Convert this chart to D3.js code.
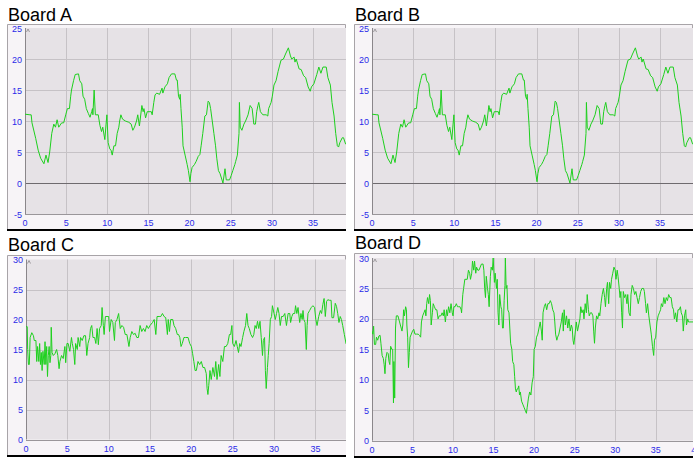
<!DOCTYPE html>
<html><head><meta charset="utf-8">
<script src="https://cdn.jsdelivr.net/npm/d3@7"></script>
<style>html,body{margin:0;padding:0;background:#fff;}svg{display:block;}</style>
</head><body>
<svg id="c" width="694" height="462"></svg>
<script>
const titles = ["Board A", "Board B", "Board C", "Board D"];
const xTicks = [0, 5, 10, 15, 20, 25, 30, 35, 40];
const yTicksAB = [-5, 0, 5, 10, 15, 20, 25];
const yTicksCD = [0, 5, 10, 15, 20, 25, 30];

const boardA_x = [0,0.6,0.75,0.85,1.3,1.6,1.9,2.3,2.55,2.8,3.0,3.25,3.5,3.7,3.9,4.1,4.45,4.7,4.95,5.15,5.4,5.55,5.65,5.9,6.1,6.5,6.65,6.9,7.05,7.25,7.45,7.7,7.9,8.1,8.2,8.25,8.4,8.55,8.9,9.1,9.3,9.45,9.7,9.85,9.95,10.1,10.3,10.45,10.6,10.8,11.0,11.2,11.4,11.5,11.65,11.85,12.2,12.6,12.9,13.1,13.3,13.55,13.7,13.9,14.2,14.35,14.45,14.65,14.85,15.35,15.45,15.65,15.8,16.0,16.35,16.65,16.75,17.0,17.3,17.5,17.8,18.2,18.4,18.5,18.65,18.8,18.85,18.95,19.1,19.2,19.45,19.7,19.85,20.05,20.15,20.3,20.6,20.8,21.05,21.25,21.4,21.6,21.85,22.05,22.25,22.4,22.55,22.75,22.95,23.15,23.3,23.5,23.7,24.05,24.3,24.45,24.85,25.05,25.25,25.5,25.6,25.8,26.0,26.05,26.15,26.35,26.6,26.8,27.1,27.35,27.6,27.8,28.0,28.15,28.3,28.4,28.6,28.9,29.3,29.5,29.6,29.75,29.9,30.05,30.25,30.5,30.75,31.1,31.4,31.65,32.0,32.25,32.4,32.7,32.8,32.95,33.3,33.55,33.85,34.1,34.4,34.65,34.8,35.1,35.45,35.7,35.95,36.2,36.6,36.8,37.1,37.3,37.55,37.75,37.95,38.1,38.25,38.55,38.7,38.95,39.0];
const boardA_y = [11.1,11,11,9.7,7.2,5.3,4,3.1,4.5,3.3,5,8,9.5,9,10.2,9,9.7,9.7,11,12,12,14,15,16.5,17.5,17.6,16.5,16,14,13.5,12,11.2,10.6,11.5,12,11,15,11,11,9.3,8.3,9,7,9.5,11,6.5,5.5,5.3,4.5,6,6,8,9,10,11,10.3,10,9.8,9.5,8.5,9,10,11,9.2,12.5,11.5,12,10.5,11.5,11.5,11,13,14.2,14.5,14.3,15.3,14.5,15.5,16,17,17.6,17.6,16.6,16.6,14,13.5,14.3,12,9,6,4.5,3,2,0.2,1.5,2.5,3,3.5,4.3,4.6,6,8,10.8,11,13.2,13,12,10,8,6,4,2,1.5,0,2.3,0.5,0.5,1.2,2,3,3.5,4.5,8,13,9,8.5,9.5,10,11,12.5,12,9.5,9.5,11.5,12.5,13,11.5,11,11,10.8,12,12.5,13,14,15.8,16.5,18,19.8,20,20.8,21.8,20.5,20,20.3,19.5,20,18.4,18.3,17.3,17,15.5,14.8,15.5,16,17.5,18.7,17.7,18.7,18.7,17,15.8,13,10.8,8,6,5.8,6.5,7.3,7.3,6.3,6.3];

const boardB_x = [0,0.6,0.75,0.85,1.3,1.6,1.9,2.3,2.55,2.8,3.0,3.25,3.5,3.7,3.9,4.1,4.45,4.7,4.95,5.15,5.4,5.55,5.65,5.9,6.1,6.5,6.65,6.9,7.05,7.25,7.45,7.7,7.9,8.1,8.2,8.25,8.4,8.55,8.9,9.1,9.3,9.45,9.7,9.85,9.95,10.1,10.3,10.45,10.6,10.8,11.0,11.2,11.4,11.5,11.65,11.85,12.2,12.6,12.9,13.1,13.3,13.55,13.7,13.9,14.2,14.35,14.45,14.65,14.85,15.35,15.45,15.65,15.8,16.0,16.35,16.65,16.75,17.0,17.3,17.5,17.8,18.2,18.4,18.5,18.65,18.8,18.85,18.95,19.1,19.2,19.45,19.7,19.85,20.05,20.15,20.3,20.6,20.8,21.05,21.25,21.4,21.6,21.85,22.05,22.25,22.4,22.55,22.75,22.95,23.15,23.3,23.5,23.7,24.05,24.3,24.45,24.85,25.05,25.25,25.5,25.6,25.8,26.0,26.05,26.15,26.35,26.6,26.8,27.1,27.35,27.6,27.8,28.0,28.15,28.3,28.4,28.6,28.9,29.3,29.5,29.6,29.75,29.9,30.05,30.25,30.5,30.75,31.1,31.4,31.65,32.0,32.25,32.4,32.7,32.8,32.95,33.3,33.55,33.85,34.1,34.4,34.65,34.8,35.1,35.45,35.7,35.95,36.2,36.6,36.8,37.1,37.3,37.55,37.75,37.95,38.1,38.25,38.55,38.7,38.95,39.0];
const boardB_y = [11.1,11,11,9.7,7.2,5.3,4,3.1,4.5,3.3,5,8,9.5,9,10.2,9,9.7,9.7,11,12,12,14,15,16.5,17.5,17.6,16.5,16,14,13.5,12,11.2,10.6,11.5,12,11,15,11,11,9.3,8.3,9,7,9.5,11,6.5,5.5,5.3,4.5,6,6,8,9,10,11,10.3,10,9.8,9.5,8.5,9,10,11,9.2,12.5,11.5,12,10.5,11.5,11.5,11,13,14.2,14.5,14.3,15.3,14.5,15.5,16,17,17.6,17.6,16.6,16.6,14,13.5,14.3,12,9,6,4.5,3,2,0.2,1.5,2.5,3,3.5,4.3,4.6,6,8,10.8,11,13.2,13,12,10,8,6,4,2,1.5,0,2.3,0.5,0.5,1.2,2,3,3.5,4.5,8,13,9,8.5,9.5,10,11,12.5,12,9.5,9.5,11.5,12.5,13,11.5,11,11,10.8,12,12.5,13,14,15.8,16.5,18,19.8,20,20.8,21.8,20.5,20,20.3,19.5,20,18.4,18.3,17.3,17,15.5,14.8,15.5,16,17.5,18.7,17.7,18.7,18.7,17,15.8,13,10.8,8,6,5.8,6.5,7.3,7.3,6.3,6.3];

const boardC_x = [0,0.15,0.2,0.3,0.4,0.5,0.7,0.9,1.0,1.2,1.3,1.4,1.55,1.65,1.75,1.85,1.95,2.05,2.2,2.3,2.4,2.5,2.6,2.7,2.8,2.9,3.0,3.05,3.15,3.3,3.5,3.7,3.85,4.0,4.1,4.3,4.5,4.7,4.8,4.95,5.1,5.3,5.5,5.6,5.75,5.9,6.0,6.2,6.3,6.5,6.6,6.8,7.0,7.2,7.35,7.5,7.7,7.8,7.95,8.1,8.3,8.45,8.6,8.75,8.9,9.1,9.2,9.35,9.45,9.6,9.8,10.0,10.1,10.3,10.5,10.7,10.8,11.0,11.2,11.4,11.6,11.8,12.0,12.2,12.45,12.6,12.8,13.0,13.2,13.4,13.6,13.8,14.0,14.2,14.4,14.6,14.8,15.0,15.3,15.5,15.7,15.85,16.1,16.3,16.5,16.7,16.9,17.1,17.2,17.35,17.5,17.75,17.9,18.1,18.3,18.45,18.6,18.75,18.9,19.1,19.3,19.6,19.8,20.0,20.15,20.3,20.45,20.6,20.8,21.0,21.2,21.4,21.6,21.8,21.9,22.0,22.1,22.25,22.4,22.6,22.8,22.95,23.1,23.3,23.45,23.6,23.8,24.0,24.2,24.4,24.6,24.75,24.9,25.0,25.2,25.4,25.55,25.7,25.85,26.0,26.2,26.35,26.55,26.7,26.85,27.0,27.2,27.4,27.55,27.7,27.85,28.0,28.15,28.3,28.45,28.6,28.7,28.85,28.95,29.05,29.2,29.3,29.4,29.55,29.7,29.8,30.0,30.15,30.3,30.45,30.6,30.75,30.9,31.1,31.3,31.5,31.7,31.9,32.0,32.15,32.3,32.5,32.6,32.75,32.9,33.1,33.25,33.4,33.5,33.6,33.75,33.9,34.0,34.1,34.3,34.5,34.7,34.9,35.05,35.2,35.4,35.6,35.75,35.9,36.05,36.2,36.35,36.5,36.7,36.9,37.0,37.2,37.4,37.55,37.7,37.85,38.0,38.15,38.3,38.5,38.7,38.8];
const boardC_y = [18.8,18.8,15,12.5,12.5,17,17.8,17.3,16.5,16.5,13,15.5,13,16,12.5,14.5,11.5,14.7,12.5,16.3,12.5,15.5,10.5,14,15.5,12.8,14,18.7,14.5,14,14.3,15,14,11.8,13,14,13.5,15.5,12.8,16,16,14.7,17,16,15,12.5,16,15,17,15.5,17,16.5,17.3,17.3,14,16,17,18.5,19,17,17,16,18.5,15.8,18.5,19,22,19,17.5,20.5,20.5,20.5,18,20,19.5,16.5,19.5,20,21,18.5,19,18.7,17.5,17.5,15.5,17,18,17.5,17.7,17,17,19,18,18.5,18,19,18.5,19,19.5,20,17.5,20.5,20.5,20.5,21,20.5,20.3,17.5,20,18,20,20,19,18.5,17.5,17.5,17,15.5,16,17,17,17,16,15.5,14.3,13,11.5,11.5,13,12.5,13,12,12,11,8.5,7.5,9,11.5,10,12,10.5,13,10,12.5,10.5,14,13,15.5,15.5,16,17.5,17.5,19,16,15.5,16.5,15.5,14.5,16,15.5,17,18,19,21,19,18.5,17.5,17,17.5,19,18.5,19.7,18.5,19.7,17,14,16.5,17,11.5,8.5,12,14,16,20,20.5,22.3,21,20,21,22,21,19,20.5,20.5,21,19,21,21,19.5,20.5,21,21,22.3,21,22,19.5,21,20,21.5,20,19.5,15,19,21,21.5,22,22.3,22,20,19,20.5,21.5,21,22.5,23.5,20.5,23,23.3,23.2,23.2,20.3,20.3,22.7,22.2,21,19.5,20.5,20,19,17.5,16,15.8];

const boardD_x = [0,0.1,0.2,0.3,0.45,0.55,0.7,0.85,1.0,1.1,1.25,1.4,1.5,1.6,1.7,1.85,2.0,2.1,2.2,2.3,2.45,2.55,2.65,2.7,2.8,2.9,3.0,3.2,3.4,3.6,3.7,3.8,3.9,4.0,4.15,4.25,4.3,4.4,4.5,4.6,4.7,4.85,5.0,5.15,5.3,5.5,5.7,5.85,6.0,6.1,6.25,6.4,6.55,6.65,6.75,6.85,7.0,7.1,7.2,7.3,7.45,7.55,7.7,7.85,8.0,8.15,8.3,8.5,8.65,8.8,8.9,9.05,9.2,9.3,9.45,9.6,9.75,9.9,10.0,10.1,10.25,10.4,10.55,10.7,10.85,11.0,11.05,11.2,11.3,11.45,11.6,11.75,11.9,12.05,12.15,12.3,12.4,12.55,12.65,12.8,12.9,13.05,13.2,13.35,13.5,13.7,13.8,13.9,14.0,14.1,14.25,14.35,14.45,14.6,14.7,14.85,14.95,15.1,15.2,15.35,15.45,15.55,15.65,15.75,15.9,16.0,16.1,16.2,16.3,16.4,16.45,16.55,16.65,16.75,16.9,17.0,17.1,17.25,17.35,17.5,17.6,17.7,17.8,17.9,18.0,18.1,18.2,18.3,18.45,18.6,18.75,18.9,19.05,19.15,19.3,19.45,19.6,19.75,19.9,20.0,20.15,20.3,20.45,20.6,20.75,20.9,21.0,21.1,21.25,21.4,21.55,21.7,21.85,22.0,22.15,22.3,22.45,22.55,22.65,22.8,22.9,23.05,23.2,23.35,23.5,23.6,23.7,23.85,24.0,24.15,24.3,24.45,24.6,24.7,24.8,24.9,25.05,25.2,25.35,25.5,25.65,25.75,25.9,26.05,26.15,26.3,26.45,26.55,26.7,26.8,26.95,27.1,27.25,27.35,27.45,27.55,27.7,27.85,28.0,28.1,28.25,28.4,28.55,28.7,28.8,28.95,29.05,29.2,29.3,29.45,29.55,29.7,29.85,30.0,30.1,30.25,30.35,30.5,30.6,30.7,30.8,30.9,31.0,31.15,31.3,31.45,31.55,31.7,31.85,31.95,32.1,32.25,32.4,32.55,32.7,32.85,33.0,33.15,33.3,33.5,33.6,33.75,33.85,34.0,34.15,34.3,34.45,34.6,34.75,34.85,35.0,35.15,35.3,35.45,35.6,35.7,35.85,36.0,36.15,36.3,36.45,36.6,36.75,36.9,37.05,37.2,37.3,37.45,37.6,37.75,37.9,38.05,38.15,38.3,38.4,38.55,38.7,38.8,38.95,39.05,39.2,39.6];
const boardD_y = [18,17.5,18.8,15.8,15.8,17,16.5,17.2,17.3,16,14,13.5,12.5,11,13.5,14.5,14.3,13,12.5,15.5,15,15,6.2,13,7,18.5,20.5,20.5,19.5,18.5,18,19,21.5,20.5,22,21.5,19,17,12,14.5,17,17.5,18,18.3,17.5,17.5,17.5,17.3,17,19.5,20.5,21,21.5,20.5,22.5,23.5,22.5,24,23,19,21,22.5,22,21.5,21.5,20,20.5,20.5,21,20.5,21.5,19.5,21.5,20.5,22,21,22.5,21,20.5,22,22,22.5,22,22,22,21.5,21,24,25,26.5,26.5,26.5,28,27.5,26.5,27.5,29.5,28,29.5,27.5,28.5,28,28,28.5,29,29,28,25,23.5,27,25,24,22,27,28.5,28,30,26,27.5,25,26.5,21,19,24,22,21.5,18.5,18.5,23,25.5,30,25,25.5,21.5,21,18.5,16,15,13,12.5,10.5,8.5,8,8.5,8.5,9,7.5,8,6.5,6,5.5,5,4.5,5.5,7,8,7.5,9.5,10.5,15,15.5,17,17.5,18.5,19.5,18,16.5,21,22,22.5,21.5,22.5,22.5,23,22.5,21.5,21,19.5,17.5,16.5,17,17.5,18.5,19.5,21,18,21.5,19,20.5,18.5,20,18,19,18.5,16.5,15.8,17.5,19.5,18,19,20,22,21,21.5,20,22.5,21,24,21.5,20.5,21,21,20.5,18,16,18.5,20.5,20,21,20.5,22.5,24,25,23.5,22,25,26,22.5,26,25,26.5,27.5,28.5,28,26.5,28,27,25,23.5,24.5,21,18.5,24.5,23.5,24,22.5,24,21,20.5,24,25.5,25,24,24.5,23.5,22.5,23.5,24.5,25,25,24.5,22.5,21,22.5,20.5,19,17.5,15.5,14,16.5,17,19.5,20.5,21,21.5,22.5,22,23.5,22.5,23.5,23,24,23.5,23.5,22,21.5,20,21,19.5,21.5,21.5,22,21,20.5,18,20.5,21.5,19,20,19.5,19.5,19.5];

const svg = d3.select("#c");

function drawPanel(p) {
  const g = svg.append("g");
  g.append("rect").attr("x", p.ox).attr("y", p.oy).attr("width", p.right - p.ox).attr("height", p.bottom - p.oy).attr("fill", "#f7f4f7");
  const x = d3.scaleLinear().domain(p.xDomain).range([p.left, p.right]);
  const y = d3.scaleLinear().domain(p.yDomain).range([p.plotBottom, p.plotTop]);
  g.append("rect").attr("x", p.left).attr("y", p.plotTop).attr("width", p.right - p.left).attr("height", p.plotBottom - p.plotTop).attr("fill", "#e6e2e6");
  const gx = xTicks.filter(t => t > p.xDomain[0] && x(t) < p.right);
  g.selectAll(null).data(gx).enter().append("line")
    .attr("x1", d => Math.round(x(d)) + 0.5).attr("x2", d => Math.round(x(d)) + 0.5)
    .attr("y1", p.plotTop).attr("y2", p.plotBottom).attr("stroke", "#c6c2c6").attr("stroke-width", 1);
  g.selectAll(null).data(p.yTicks.filter(t => t > p.yDomain[0] && t < p.yDomain[1])).enter().append("line")
    .attr("x1", p.left).attr("x2", p.right)
    .attr("y1", d => Math.round(y(d)) + 0.5).attr("y2", d => Math.round(y(d)) + 0.5)
    .attr("stroke", d => d === 0 ? "#6e6a6e" : "#c6c2c6").attr("stroke-width", 1);
  g.append("line").attr("x1", p.left).attr("x2", p.right).attr("y1", Math.round(p.plotBottom) + 0.5).attr("y2", Math.round(p.plotBottom) + 0.5).attr("stroke", "#9a969a");
  g.append("line").attr("x1", p.left + 0.5).attr("x2", p.left + 0.5).attr("y1", p.plotTop).attr("y2", p.plotBottom).attr("stroke", "#8a868a");
  g.append("path").attr("d", `M${p.left + 1.5},${p.plotTop + 4} L${p.left + 3},${p.plotTop + 1} L${p.left + 4.5},${p.plotTop + 4}`)
    .attr("fill", "none").attr("stroke", "#8a868a").attr("stroke-width", 0.8);
  g.append("path").attr("d", `M${p.ox + 0.5},${p.bottom} V${p.oy + 0.5} H${p.right - 0.5} V${p.plotTop}`)
    .attr("fill", "none").attr("stroke", "#a8a4a8");
  g.append("line").attr("x1", p.ox).attr("x2", p.right).attr("y1", p.bottom).attr("y2", p.bottom).attr("stroke", "#000").attr("stroke-width", 2);
  const pts = p.xs.map((d, i) => [d, p.ys[i]]);
  const clipId = "clip" + p.id;
  svg.append("clipPath").attr("id", clipId).append("rect").attr("x", p.left).attr("y", p.plotTop - 1).attr("width", p.right - p.left).attr("height", p.plotBottom - p.plotTop + 2);
  g.append("path").datum(pts).attr("clip-path", `url(#${clipId})`)
    .attr("d", d3.line().x(d => x(d[0])).y(d => y(d[1])))
    .attr("fill", "none").attr("stroke", "#1ed01e").attr("stroke-width", 1);
  g.selectAll(null).data(p.yTicks).enter().append("text")
    .attr("x", p.left - 3).attr("y", d => y(d) + 3.5)
    .attr("text-anchor", "end").attr("font-family", "Liberation Sans, Arial, sans-serif").attr("font-size", 9).attr("fill", "#2a2ae8")
    .text(d => d);
  g.selectAll(null).data(xTicks.filter(t => t <= p.xDomain[1] + 0.5)).enter().append("text")
    .attr("x", d => x(d)).attr("y", p.plotBottom + 12)
    .attr("text-anchor", "middle").attr("font-family", "Liberation Sans, Arial, sans-serif").attr("font-size", 9).attr("fill", "#2a2ae8")
    .text(d => d);
  g.append("text").attr("x", p.ox + 1).attr("y", p.titleY).attr("font-family", "Liberation Sans, Arial, sans-serif").attr("font-size", 18).attr("fill", "#000").text(p.title);
}

drawPanel({id: "A", title: titles[0], ox: 7, oy: 24, right: 346, bottom: 230, left: 25, plotTop: 28, plotBottom: 214, xDomain: [0, 39], yDomain: [-5, 25], yTicks: yTicksAB, xs: boardA_x, ys: boardA_y, titleY: 21});
drawPanel({id: "B", title: titles[1], ox: 354, oy: 24, right: 693, bottom: 230, left: 372, plotTop: 28, plotBottom: 214, xDomain: [0, 39], yDomain: [-5, 25], yTicks: yTicksAB, xs: boardB_x, ys: boardB_y, titleY: 21});
drawPanel({id: "C", title: titles[2], ox: 7, oy: 255, right: 346, bottom: 456, left: 26, plotTop: 259.5, plotBottom: 439.5, xDomain: [0, 38.7], yDomain: [0, 30], yTicks: yTicksCD, xs: boardC_x, ys: boardC_y, titleY: 251});
drawPanel({id: "D", title: titles[3], ox: 354, oy: 253, right: 693, bottom: 457, left: 372, plotTop: 258, plotBottom: 440.7, xDomain: [0, 39.6], yDomain: [0, 30], yTicks: yTicksCD, xs: boardD_x, ys: boardD_y, titleY: 249});
</script>
</body></html>
